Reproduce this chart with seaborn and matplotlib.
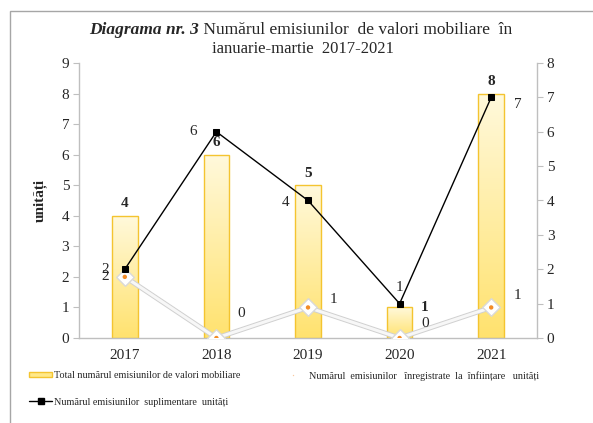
import matplotlib
matplotlib.use('Agg')
import matplotlib.pyplot as plt
import matplotlib.patheffects as pe
from matplotlib.lines import Line2D
from matplotlib.patches import Rectangle
from matplotlib.colors import LinearSegmentedColormap
import seaborn as sns
import numpy as np

sns.set_style('white')
plt.rcParams['font.family'] = ['Liberation Serif', 'DejaVu Serif']

# date
years = ['2017', '2018', '2019', '2020', '2021']
total = [4, 6, 5, 1, 8]
suplimentare = [2, 6, 4, 1, 7]
infiintare = [2, 0, 1, 0, 1]

lbl_total = 'Total numărul emisiunilor de valori mobiliare'
lbl_sup = 'Numărul emisiunilor  suplimentare  unități'
lbl_inf = 'Numărul  emisiunilor   înregistrate  la  înființare   unități'

# deplasari etichete (pixeli)
off_sup = [(-20, 0), (-23, 0), (-22, -2), (0, 16), (27, -7)]
off_inf = [(-20, 0), (25, 25), (25, 8), (26, 15), (26, 12)]
off_tot = [(0, 12), (0, 12), (0, 12), (25, 0), (0, 12)]

W, H = 593, 423
fig = plt.figure(figsize=(W / 100, H / 100), dpi=100)
ax = fig.add_axes([79 / W, 1 - 338 / H, (537 - 79) / W, (338 - 63) / H])

# chenar
fig.patches.append(Rectangle((10 / W, -0.1), 1.2, 1 - 11 / H + 0.1, transform=fig.transFigure,
                             fill=False, edgecolor='#a6a6a6', linewidth=1.0, zorder=-5))

sns.barplot(x=years, y=total, ax=ax, width=0.28, color='#ffe98a',
            edgecolor='#f4c430', linewidth=1.0, zorder=2)

# gradient pe bare
grad = np.linspace(0, 1, 256).reshape(-1, 1)
cmap = LinearSegmentedColormap.from_list('g', ['#ffe26e', '#fff9dc'])
for p in ax.patches:
    x0, y0, w, h = p.get_x(), p.get_y(), p.get_width(), p.get_height()
    im = ax.imshow(grad, cmap=cmap, origin='lower', aspect='auto',
                   extent=[x0, x0 + w, y0, y0 + h], zorder=2.1)
    im.set_clip_path(p)
    p.set_facecolor('none')
    p.set_zorder(2.2)

# seria alba pe axa principala
xs = np.arange(len(years))
sns.lineplot(x=xs, y=infiintare, ax=ax, color='#f7f7f7', linewidth=2.2,
             zorder=3, path_effects=[pe.Stroke(linewidth=3.6, foreground='#d0d0d0'), pe.Normal()])
sns.scatterplot(x=xs, y=infiintare, ax=ax, marker='D', s=80,
                color='white', edgecolor='#d9d9d9', linewidth=1.0, zorder=4)
sns.scatterplot(x=xs, y=infiintare, ax=ax, marker='o', s=10,
                color='#f28c28', edgecolor='none', zorder=5)

ax.set_ylim(0, 9)
ax.set_xlim(-0.5, 4.5)
ax.set_yticks(range(0, 10))
ax.set_ylabel('unități', fontsize=11, fontweight='bold', labelpad=11)
ax.set_xlabel('')

ax2 = ax.twinx()
sns.lineplot(x=xs, y=suplimentare, ax=ax2, color='black', linewidth=1.0,
             marker='s', markersize=5, markeredgecolor='black', zorder=6)
ax2.set_ylim(0, 8)
ax2.set_yticks(range(0, 9))
ax2.set_xlim(-0.5, 4.5)
ax2.set_ylabel('')

for a in (ax, ax2):
    for s in a.spines.values():
        s.set_color('#bfbfbf')
        s.set_linewidth(1.0)
    a.spines['top'].set_visible(False)
    a.tick_params(axis='both', labelsize=11, length=4, color='#bfbfbf', pad=3)
ax.spines['right'].set_visible(False)
ax2.spines['left'].set_visible(False)
ax2.spines['bottom'].set_visible(False)

# ticks x intre categorii
ax.set_xticks(xs)
ax.set_xticklabels(years, fontsize=11)
ax.tick_params(axis='x', length=0, pad=8)
ax.set_xticks(np.arange(len(years) + 1) - 0.5, minor=True)
ax.tick_params(axis='x', which='minor', length=4, color='#bfbfbf', direction='out')
ax2.tick_params(axis='x', length=0)

# etichete
for i in range(len(years)):
    ax.annotate(str(total[i]), (i, total[i]), xytext=off_tot[i], textcoords='offset pixels',
                ha='center', va='center', fontsize=11, fontweight='bold', zorder=7)
    ax2.annotate(str(suplimentare[i]), (i, suplimentare[i]), xytext=off_sup[i],
                 textcoords='offset pixels', ha='center', va='center', fontsize=11, zorder=7)
    ax.annotate(str(infiintare[i]), (i, infiintare[i]), xytext=off_inf[i],
                textcoords='offset pixels', ha='center', va='center', fontsize=11, zorder=7)

# titlu (doua parti pe primul rand, centrate impreuna)
t1 = fig.text(0, 1 - 30 / H, 'Diagrama nr. 3', ha='left', va='center', fontsize=12.5,
              fontweight='bold', fontstyle='italic')
t2 = fig.text(0, 1 - 30 / H, ' Numărul emisiunilor  de valori mobiliare  în', ha='left',
              va='center', fontsize=12.5)
r = fig.canvas.get_renderer()
w1 = t1.get_window_extent(r).width
w2 = t2.get_window_extent(r).width
x_start = 301 - (w1 + w2) / 2
t1.set_x(x_start / W)
t2.set_x((x_start + w1) / W)
fig.text(303 / W, 1 - 49 / H, 'ianuarie-martie  2017-2021', ha='center', va='center',
         fontsize=12)

# legenda
h_tot = Rectangle((0, 0), 1, 1, facecolor='#ffe98a', edgecolor='#f4c430', linewidth=1.0)
h_sup = Line2D([], [], color='black', linewidth=1.0, marker='s', markersize=4)
h_inf = Line2D([], [], color='white', linewidth=0, marker='o', markersize=1,
               markerfacecolor='#f8c9a0', markeredgecolor='none')
fig.legend([h_tot, h_sup], [lbl_total, lbl_sup], loc='upper left',
           bbox_to_anchor=(29 / W, 1 - 371 / H), frameon=False,
           fontsize=7.3, handlelength=2.3, handleheight=0.5, handletextpad=0.15,
           labelspacing=1.75, borderpad=0, borderaxespad=0)
fig.legend([h_inf], [lbl_inf], loc='upper left',
           bbox_to_anchor=(285 / W, 1 - 371 / H), frameon=False,
           fontsize=7.3, handlelength=1.6, handleheight=0.5, handletextpad=0.8,
           borderpad=0, borderaxespad=0)

fig.savefig('out.png', dpi=100)
